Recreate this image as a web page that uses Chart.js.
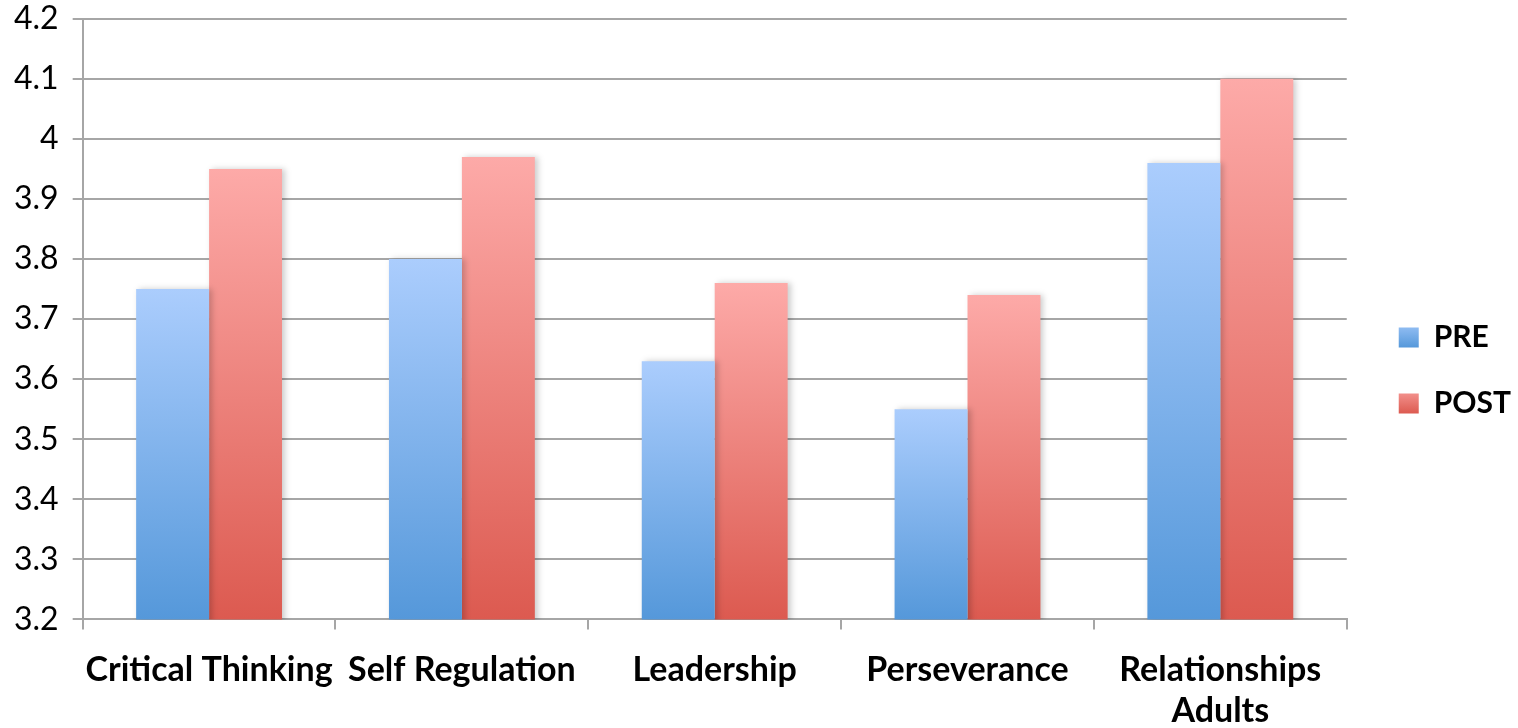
<!DOCTYPE html>
<html>
<head>
<meta charset="utf-8">
<script src="https://cdn.jsdelivr.net/npm/chart.js@4.4.1/dist/chart.umd.min.js"></script>
<style>
  html, body { margin: 0; padding: 0; background: #fff; }
  #wrap { width: 1518px; height: 728px; }
</style>
</head>
<body>
<div id="wrap"><canvas id="barChart"></canvas></div>
<script>
// Skor rata-rata per kategori
const categories = ['Critical Thinking', 'Self Regulation', 'Leadership', 'Perseverance', ['Relationships', 'Adults']];
const preScores = [3.75, 3.80, 3.63, 3.55, 3.96];
const postScores = [3.95, 3.97, 3.76, 3.74, 4.10];
const yMin = 3.2;
const yMax = 4.2;

// warna gradasi: atas terang, bawah gelap
const preColors = ['#abcdfd', '#5598da'];
const postColors = ['#fdaaa8', '#dc5a50'];

function barGradient(colors) {
    return function (context) {
        const chart = context.chart;
        if (!chart.chartArea || context.raw === undefined) return colors[1];
        const y = chart.scales.y;
        const top = y.getPixelForValue(context.raw);
        const bottom = y.getPixelForValue(yMin);
        const g = chart.ctx.createLinearGradient(0, top, 0, bottom);
        g.addColorStop(0, colors[0]);
        g.addColorStop(1, colors[1]);
        return g;
    };
}

// bayangan tipis di sisi kanan batang
const barShadow = {
    id: 'barShadow',
    beforeDatasetsDraw(chart) {
        const c = chart.ctx;
        c.save();
        c.shadowColor = 'rgba(0,0,0,0.2)';
        c.shadowBlur = 6;
        c.shadowOffsetX = 3;
        c.shadowOffsetY = 0;
    },
    afterDatasetsDraw(chart) {
        chart.ctx.restore();
    }
};

// geser legenda sedikit ke kanan dan ke atas
const legendDx = 16;
const legendDy = -5;
const legendShift = {
    id: 'legendShift',
    afterLayout(chart) {
        const lg = chart.legend;
        if (!lg) return;
        lg.left += legendDx;
        lg.right += legendDx;
        lg.top += legendDy;
        lg.bottom += legendDy;
    }
};

// kotak legenda juga pakai gradasi
const legendGradient = {
    id: 'legendGradient',
    beforeDraw(chart) {
        const lg = chart.legend;
        if (!lg || !lg.legendHitBoxes) return;
        const sets = [preColors, postColors];
        lg.legendItems.forEach((item, i) => {
            const hb = lg.legendHitBoxes[i];
            if (!hb) return;
            const top = hb.top + legendDy;
            const g = chart.ctx.createLinearGradient(0, top, 0, top + hb.height);
            g.addColorStop(0, sets[i][0]);
            g.addColorStop(1, sets[i][1]);
            item.fillStyle = g;
        });
    }
};

const ctx = document.getElementById('barChart').getContext('2d');
const barChart = new Chart(ctx, {
    type: 'bar',
    data: {
        labels: categories,
        datasets: [
            {
                label: 'PRE',
                data: preScores,
                backgroundColor: barGradient(preColors),
                borderWidth: 0
            },
            {
                label: 'POST',
                data: postScores,
                backgroundColor: barGradient(postColors),
                borderWidth: 0
            }
        ]
    },
    plugins: [barShadow, legendShift, legendGradient],
    options: {
        responsive: true,
        maintainAspectRatio: false,
        animation: false,
        datasets: {
            bar: {
                categoryPercentage: 0.577,
                barPercentage: 1.0
            }
        },
        layout: {
            padding: { left: 0, right: 13, top: 0, bottom: -23 }
        },
        plugins: {
            tooltip: { enabled: false },
            legend: {
                position: 'right',
                align: 'center',
                labels: {
                    boxWidth: 20,
                    boxHeight: 20,
                    padding: 36,
                    color: '#000',
                    font: { family: 'Lato', size: 30, weight: 'bold' }
                }
            }
        },
        scales: {
            x: {
                grid: {
                    drawOnChartArea: false,
                    offset: true,
                    color: '#a6a6a6',
                    lineWidth: 2,
                    tickLength: 10
                },
                border: { color: '#a6a6a6', width: 2 },
                ticks: {
                    color: '#000',
                    padding: 20,
                    maxRotation: 0,
                    autoSkip: false,
                    font: { family: 'Lato', size: 34, weight: 'bold', lineHeight: 1.2 }
                }
            },
            y: {
                min: yMin,
                max: yMax,
                grid: {
                    color: '#a6a6a6',
                    lineWidth: 2,
                    tickLength: 10
                },
                border: { color: '#a6a6a6', width: 2 },
                ticks: {
                    stepSize: 0.1,
                    color: '#000',
                    padding: 14,
                    font: { family: 'Lato', size: 32, lineHeight: 0.3 },
                    callback: v => parseFloat(v.toFixed(1)).toString()
                }
            }
        }
    }
});
</script>
</body>
</html>
